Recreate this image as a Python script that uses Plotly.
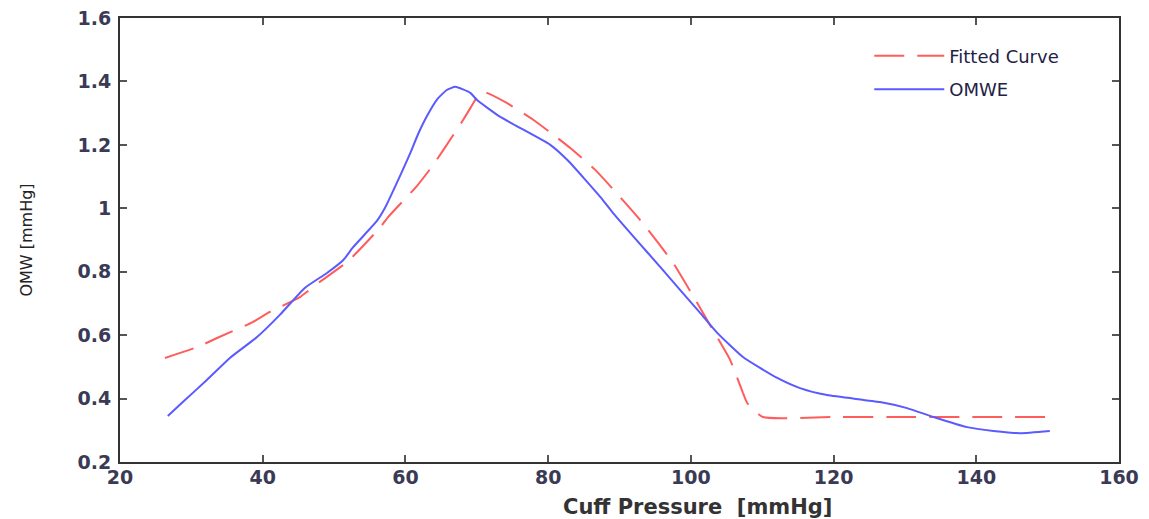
import plotly.graph_objects as go

# OMWE (measured envelope)
omwe_x = [26.7, 28.8, 32.2, 35.4, 39.2, 42.4, 45.9, 49.0, 51.3, 52.7, 56.0, 57.1, 59.2, 60.6,
          61.8, 63.0, 64.5, 65.8, 67.0, 69.1, 70.0, 73.3, 80.3, 82.7, 87.3, 89.1, 95.7, 101.3,
          103.7, 107.3, 112.1, 115.3, 119.1, 126.5, 130.3, 134.0, 138.7, 142.4, 146.1, 150.3]
omwe_y = [0.345, 0.389, 0.459, 0.528, 0.594, 0.664, 0.749, 0.796, 0.837, 0.878, 0.960, 1.000,
          1.100, 1.170, 1.235, 1.290, 1.345, 1.373, 1.383, 1.364, 1.342, 1.288, 1.200, 1.152,
          1.036, 0.985, 0.815, 0.670, 0.607, 0.531, 0.465, 0.433, 0.411, 0.389, 0.370, 0.342,
          0.310, 0.298, 0.291, 0.298]

# Fitted curve
fit_x = [26.3, 30.9, 33.6, 38.6, 41.0, 45.2, 48.0, 52.0, 56.4, 57.6, 61.6, 63.9, 66.7, 68.1,
         69.8, 70.5, 71.4, 74.2, 77.9, 81.3, 83.1, 86.6, 92.9, 97.5, 100.9, 103.1, 105.5,
         107.3, 107.9, 110.1, 120.0, 130.0, 140.0, 150.6]
fit_y = [0.528, 0.563, 0.591, 0.641, 0.673, 0.720, 0.768, 0.834, 0.938, 0.973, 1.070, 1.137,
         1.231, 1.279, 1.342, 1.367, 1.364, 1.332, 1.279, 1.222, 1.190, 1.121, 0.963, 0.828,
         0.701, 0.616, 0.522, 0.418, 0.386, 0.342, 0.342, 0.342, 0.342, 0.342]

x_ticks = [20, 40, 60, 80, 100, 120, 140, 160]
y_ticks = [0.2, 0.4, 0.6, 0.8, 1.0, 1.2, 1.4, 1.6]
y_labels = ["0.2", "0.4", "0.6", "0.8", "1", "1.2", "1.4", "1.6"]

fig = go.Figure()
fig.add_trace(go.Scatter(x=fit_x, y=fit_y, mode="lines", name="Fitted Curve", legendgroup="a",
                         line=dict(color="#ff5c5c", width=2, dash="30px,13px", shape="spline", smoothing=0.5)))
fig.add_trace(go.Scatter(x=omwe_x, y=omwe_y, mode="lines", name="OMWE", legendgroup="b",
                         line=dict(color="#5a5aff", width=2, shape="spline", smoothing=0.5)))

axis_common = dict(showgrid=False, zeroline=False, showline=True, mirror="ticks",
                   linecolor="#333333", linewidth=2, ticks="inside", ticklen=7,
                   tickcolor="#555555", tickwidth=1.5, automargin=False)

tick_font = dict(family="DejaVu Sans, sans-serif", size=19, color="#3a3a55", weight="bold")

fig.update_layout(
    width=1149, height=519,
    margin=dict(l=120, r=30, t=18, b=57),
    paper_bgcolor="white", plot_bgcolor="white",
    font=dict(family="DejaVu Sans, sans-serif", color="#333333"),
    showlegend=True,
    legend=dict(x=0.75, y=0.956, xanchor="left", yanchor="top", bgcolor="rgba(0,0,0,0)",
                font=dict(family="DejaVu Sans, sans-serif", size=18, color="#222244"),
                itemwidth=70, tracegroupgap=7),
    xaxis=dict(range=[20, 160], tickvals=x_ticks, ticktext=[str(v) for v in x_ticks],
               tickfont=tick_font, ticklabelstandoff=-3,
               **axis_common),
    yaxis=dict(range=[0.2, 1.6], tickvals=y_ticks, ticktext=y_labels,
               tickfont=tick_font, ticklabelstandoff=3,
               title=dict(text="OMW [mmHg]",
                          font=dict(family="DejaVu Sans, sans-serif", size=16, color="#222222"),
                          standoff=41),
               **axis_common),
    annotations=[dict(text="Cuff Pressure  [mmHg]", xref="paper", yref="paper",
                      x=0.578, y=-0.101, xanchor="center", yanchor="middle", showarrow=False,
                      font=dict(family="DejaVu Sans, sans-serif", size=21, color="#333333", weight="bold"))],
)

fig.write_html("out.html")
